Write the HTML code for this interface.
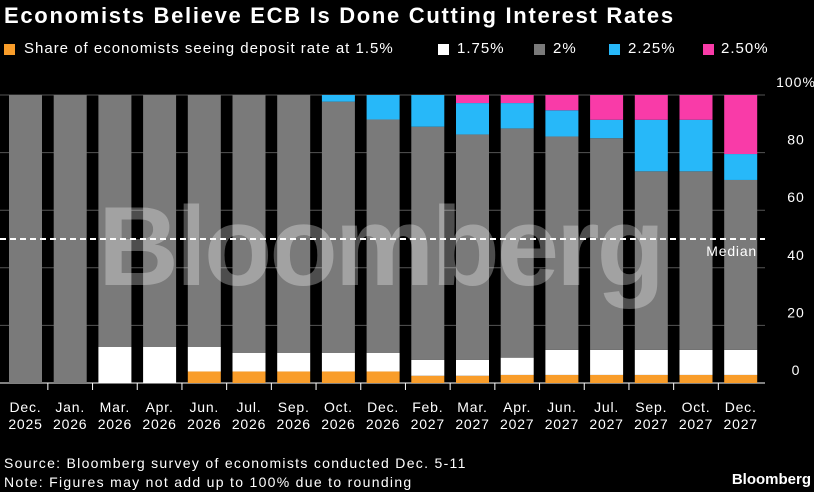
<!DOCTYPE html>
<html><head><meta charset="utf-8"><style>
body{margin:0;background:#000;width:814px;height:492px;overflow:hidden;font-family:"Liberation Sans",sans-serif;color:#fff}
#title{position:absolute;left:4px;top:3px;font-size:22px;font-weight:bold;letter-spacing:1.7px}
.li{position:absolute;top:40px;font-size:15px;letter-spacing:1px;white-space:nowrap}
.sw{position:absolute;top:44px;width:11px;height:11px}
.foot{position:absolute;left:4px;font-size:14px;letter-spacing:1.3px}
</style></head><body>
<div id="title">Economists Believe ECB Is Done Cutting Interest Rates</div>
<div>
<span class="sw" style="left:4px;background:#f99d2a"></span><span class="li" style="left:24px">Share of economists seeing deposit rate at 1.5%</span>
<span class="sw" style="left:438px;background:#fff"></span><span class="li" style="left:457px">1.75%</span>
<span class="sw" style="left:534px;background:#7a7a7a"></span><span class="li" style="left:553px">2%</span>
<span class="sw" style="left:609px;background:#27b8f9"></span><span class="li" style="left:628px">2.25%</span>
<span class="sw" style="left:703px;background:#f93ba8"></span><span class="li" style="left:721px">2.50%</span>
</div>
<svg id="chart" width="814" height="492" style="position:absolute;left:0;top:0"></svg>
<div class="foot" style="top:455px">Source: Bloomberg survey of economists conducted Dec. 5-11</div>
<div class="foot" style="top:474px">Note: Figures may not add up to 100% due to rounding</div>
<div style="position:absolute;right:3px;top:471px;font-size:15px;font-weight:bold">Bloomberg</div>
<script>
const months=["Dec.","Jan.","Mar.","Apr.","Jun.","Jul.","Sep.","Oct.","Dec.","Feb.","Mar.","Apr.","Jun.","Jul.","Sep.","Oct.","Dec."];
const years=["2025","2026","2026","2026","2026","2026","2026","2026","2026","2027","2027","2027","2027","2027","2027","2027","2027"];
const s150=[0,0,0,0,4,4,4,4,4,2.5,2.5,2.8,2.8,2.8,2.8,2.8,2.8];
const s175=[0,0,12.5,12.5,8.5,6.5,6.5,6.5,6.5,5.5,5.5,6,8.7,8.7,8.7,8.7,8.7];
const s200=[100,100,87.5,87.5,87.5,89.5,89.5,87.2,81,81,78.3,79.6,74.1,73.5,62,62,59];
const s225=[0,0,0,0,0,0,0,2.3,8.5,11,10.9,8.8,9.1,6.4,17.9,17.9,9];
const s250=[0,0,0,0,0,0,0,0,0,0,2.8,2.8,5.3,8.6,8.6,8.6,20.5];
const yTicks=[0,20,40,60,80,100];
const median=50;
const series=[[s150,"#f99d2a","1-5"],[s175,"#ffffff","1-75"],[s200,"#7a7a7a","2"],[s225,"#27b8f9","2-25"],[s250,"#f93ba8","2-50"]];
const svg=document.getElementById('chart');const NS="http://www.w3.org/2000/svg";
const y0=383,yTop=95,x0=9,pitch=44.7,bw=33,right=765;
const Y=v=>y0-(y0-yTop)*v/100;
const X=i=>x0+i*pitch;
function el(t,a,p){const e=document.createElementNS(NS,t);for(const k in a)e.setAttribute(k,a[k]);(p||svg).appendChild(e);return e;}
yTicks.forEach(t=>{
 const g=el('line',{x1:0,x2:right,y1:Y(t),y2:Y(t),stroke:t===0?'#fff':'#555','stroke-width':1});
 
 
 const tx=el('text',{x:796,y:Y(t)-8,'text-anchor':'middle','font-size':14,fill:'#fff','font-family':'Liberation Sans','letter-spacing':1});
 tx.textContent=t===100?'100%':t;
 
 
});
months.forEach((m,i)=>{
 let acc=0;
 series.forEach(([arr,c,n])=>{
  const v=arr[i];if(v>0){const r=el('rect',{x:X(i),y:Y(acc+v),width:bw,height:Y(acc)-Y(acc+v),fill:c});
  
  }
  acc+=v;
 });
 const cx=X(i)+bw/2;
 const t1=el('text',{x:cx,y:412,'text-anchor':'middle','font-size':14,fill:'#fff','font-family':'Liberation Sans','letter-spacing':0.8});t1.textContent=m;
 
 
 const t2=el('text',{x:cx,y:429,'text-anchor':'middle','font-size':14,fill:'#fff','font-family':'Liberation Sans','letter-spacing':0.8});t2.textContent=years[i];
 
 
 if(i>0){const tk=el('line',{x1:X(i)-(pitch-bw)/2,x2:X(i)-(pitch-bw)/2,y1:y0,y2:y0+7,stroke:'#fff'});
 
 }
});
const wm=el('text',{x:380,y:285,'text-anchor':'middle','font-size':112,'font-weight':'bold',fill:'#fff','fill-opacity':0.3,'font-family':'Liberation Sans','letter-spacing':-3});
wm.textContent='Bloomberg';


const ml=el('line',{x1:0,x2:right,y1:Y(median),y2:Y(median),stroke:'#fff','stroke-width':2,'stroke-dasharray':'6,4'});


const mt=el('text',{x:757,y:Y(median)+17,'text-anchor':'end','font-size':14,fill:'#fff','font-family':'Liberation Sans','letter-spacing':0.8});mt.textContent='Median';


</script>
</body></html>
